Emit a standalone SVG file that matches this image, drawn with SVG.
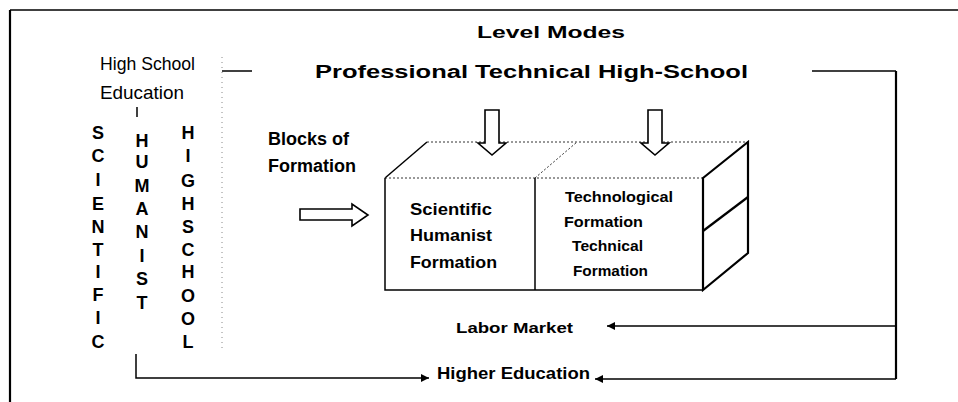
<svg xmlns="http://www.w3.org/2000/svg" width="958" height="402" viewBox="0 0 958 402">
  <defs>
    <style>
      .t { font-family: "Liberation Sans", Arial, sans-serif; fill: #000; }
      .b { font-weight: bold; }
      .ln { stroke: #000; stroke-width: 1.5; fill: none; }
      .thick { stroke: #000; stroke-width: 2.2; fill: none; }
      .dot { stroke: #333; stroke-width: 1; stroke-dasharray: 2 2; fill: none; }
      .faint { stroke: #888; stroke-width: 1; stroke-dasharray: 1 4; fill: none; }
      .hollow { fill: #fff; stroke: #000; stroke-width: 1.6; stroke-linejoin: miter; }
      .face { fill: #fff; stroke: none; }
      .col { font-family: "Liberation Sans", Arial, sans-serif; font-weight: bold; font-size: 18px; text-anchor: middle; fill: #000; }
    </style>
    <marker id="tip" viewBox="0 0 8 8" refX="8" refY="4" markerWidth="8" markerHeight="8" markerUnits="userSpaceOnUse" orient="auto">
      <path d="M0,0 L8,4 L0,8 Z" fill="#000"/>
    </marker>
  </defs>

  <rect width="958" height="402" fill="#fff"/>

  <!-- outer frame -->
  <g id="frame">
    <line class="ln" x1="10" y1="10" x2="958" y2="10"/>
    <line class="thick" x1="10" y1="10" x2="10" y2="402"/>
  </g>

  <!-- headings -->
  <g id="level-modes">
    <text class="t b" x="477" y="38" font-size="16" textLength="148" lengthAdjust="spacingAndGlyphs">Level Modes</text>
  </g>
  <g id="professional">
    <text class="t b" x="315" y="78" font-size="18" textLength="433" lengthAdjust="spacingAndGlyphs">Professional Technical High-School</text>
  </g>
  <g id="high-school-education">
    <text class="t" x="100" y="70" font-size="19" textLength="95" lengthAdjust="spacingAndGlyphs">High School</text>
    <text class="t" x="100" y="99" font-size="19" textLength="84" lengthAdjust="spacingAndGlyphs">Education</text>
  </g>

  <!-- vertical column labels -->
  <g id="scientific">
    <text class="col" x="98" y="139">S</text>
    <text class="col" x="98" y="162">C</text>
    <text class="col" x="98" y="186">I</text>
    <text class="col" x="98" y="210">E</text>
    <text class="col" x="98" y="233">N</text>
    <text class="col" x="98" y="256">T</text>
    <text class="col" x="98" y="278">I</text>
    <text class="col" x="98" y="301">F</text>
    <text class="col" x="98" y="324">I</text>
    <text class="col" x="98" y="348">C</text>
  </g>
  <g id="humanist">
    <text class="col" x="142" y="147">H</text>
    <text class="col" x="142" y="168">U</text>
    <text class="col" x="142" y="192">M</text>
    <text class="col" x="142" y="215">A</text>
    <text class="col" x="142" y="238">N</text>
    <text class="col" x="142" y="262">I</text>
    <text class="col" x="142" y="285">S</text>
    <text class="col" x="142" y="309">T</text>
  </g>
  <g id="high-school">
    <text class="col" x="188" y="139">H</text>
    <text class="col" x="188" y="162">I</text>
    <text class="col" x="188" y="187">G</text>
    <text class="col" x="188" y="210">H</text>
    <text class="col" x="188" y="233">S</text>
    <text class="col" x="188" y="256">C</text>
    <text class="col" x="188" y="278">H</text>
    <text class="col" x="188" y="302">O</text>
    <text class="col" x="188" y="325">O</text>
    <text class="col" x="188" y="348">L</text>
  </g>

  <!-- blocks of formation label -->
  <g id="blocks-of-formation">
    <text class="t b" x="268" y="145" font-size="18">Blocks of</text>
    <text class="t b" x="268" y="172" font-size="18">Formation</text>
  </g>

  <!-- the formation block (cube) -->
  <g id="block">
    <polygon class="face" points="385,178 427,142 748,142 748,253 703,290 385,290"/>
    <!-- top face -->
    <line class="dot" x1="427" y1="142" x2="748" y2="142"/>
    <line class="ln" x1="385" y1="178" x2="427" y2="142" stroke-width="1.2"/>
    <line class="dot" x1="535" y1="178" x2="577" y2="142"/>
    <line class="dot" x1="385" y1="178" x2="703" y2="178"/>
    <!-- front faces -->
    <polyline class="ln" points="385,178 385,290 703,290"/>
    <line class="ln" x1="535" y1="178" x2="535" y2="290" stroke-width="1.2"/>
    <!-- right face -->
    <polygon class="thick" points="703,178 748,142 748,253 703,290"/>
    <line class="thick" x1="703" y1="231" x2="748" y2="197"/>
  </g>

  <g id="scientific-humanist-formation">
    <text class="t b" x="410" y="215" font-size="17" textLength="82" lengthAdjust="spacingAndGlyphs">Scientific</text>
    <text class="t b" x="410" y="241" font-size="17" textLength="82" lengthAdjust="spacingAndGlyphs">Humanist</text>
    <text class="t b" x="410" y="268" font-size="17" textLength="87" lengthAdjust="spacingAndGlyphs">Formation</text>
  </g>
  <g id="technological-technical-formation">
    <text class="t b" x="565" y="202" font-size="15" textLength="108" lengthAdjust="spacingAndGlyphs">Technological</text>
    <text class="t b" x="564" y="227" font-size="15" textLength="79" lengthAdjust="spacingAndGlyphs">Formation</text>
    <text class="t b" x="572" y="251" font-size="15" textLength="71" lengthAdjust="spacingAndGlyphs">Technical</text>
    <text class="t b" x="573" y="276" font-size="15" textLength="75" lengthAdjust="spacingAndGlyphs">Formation</text>
  </g>

  <g id="labor-market">
    <text class="t b" x="456" y="333" font-size="15" textLength="117" lengthAdjust="spacingAndGlyphs">Labor Market</text>
  </g>
  <g id="higher-education">
    <text class="t b" x="437" y="379" font-size="17" textLength="153" lengthAdjust="spacingAndGlyphs">Higher Education</text>
  </g>

  <!-- connectors -->
  <g id="connectors">
    <!-- hollow arrows into the block -->
    <polygon class="hollow" points="485,110 499,110 499,143 506,143 492,155 478,143 485,143"/>
    <polygon class="hollow" points="648,110 662,110 662,143 669,143 655,155 641,143 648,143"/>
    <polygon class="hollow" points="300,209 352,209 352,204 368,215 352,226 352,220 300,220"/>
    <!-- high school education bracket -->
    <line class="faint" x1="222" y1="57" x2="222" y2="350"/>
    <line class="ln" x1="222" y1="71" x2="252" y2="71" stroke-width="1"/>
    <line class="ln" x1="137" y1="107" x2="137" y2="117"/>
    <!-- right loop -->
    <line class="ln" x1="812" y1="71" x2="896" y2="71" stroke-width="1.2"/>
    <line class="thick" x1="896" y1="71" x2="896" y2="379"/>
    <line class="ln" x1="896" y1="326" x2="607" y2="326" stroke-width="1.2" marker-end="url(#tip)"/>
    <line class="ln" x1="896" y1="379" x2="595" y2="379" stroke-width="1.2" marker-end="url(#tip)"/>
    <!-- left bracket to higher education -->
    <polyline class="ln" points="136,354 136,378 429,378" stroke-width="1.4" marker-end="url(#tip)"/>
  </g>
</svg>
